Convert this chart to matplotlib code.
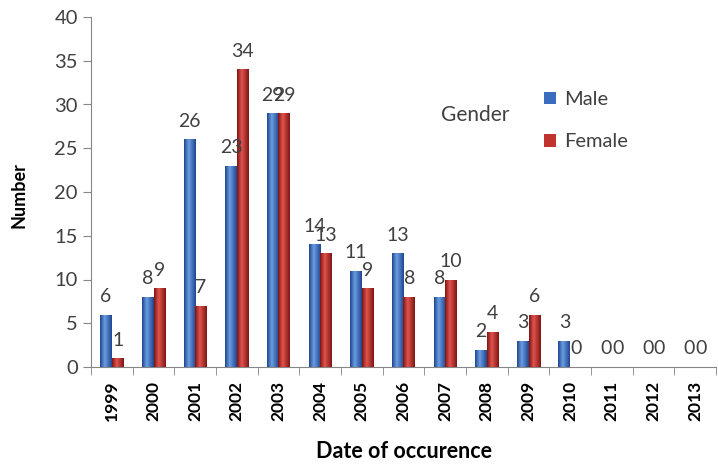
import matplotlib.pyplot as plt
import numpy as np
from matplotlib.colors import LinearSegmentedColormap

years = ['1999', '2000', '2001', '2002', '2003', '2004', '2005', '2006',
         '2007', '2008', '2009', '2010', '2011', '2012', '2013']
male = [6, 8, 26, 23, 29, 14, 11, 13, 8, 2, 3, 3, 0, 0, 0]
female = [1, 9, 7, 34, 29, 13, 9, 8, 10, 4, 6, 0, 0, 0, 0]

plt.rcParams['font.family'] = ['Lato', 'DejaVu Sans']

fig = plt.figure(figsize=(7.18, 4.65), dpi=100)
ax = fig.add_axes([91 / 718, 98 / 465, 625 / 718, 350 / 465])

x = np.arange(len(years))
w = 0.28
bm = ax.bar(x - w / 2, male, w, color='#3a6cc0', label='Male', zorder=2)
bf = ax.bar(x + w / 2, female, w, color='#c0332f', label='Female', zorder=2)

# cylinder-like shading like the old excel style
grad = np.concatenate([np.linspace(0, 1, 40), np.linspace(1, 0, 60)]).reshape(1, -1)
cm_blue = LinearSegmentedColormap.from_list('b', ['#1d4590', '#6a9ce0'])
cm_red = LinearSegmentedColormap.from_list('r', ['#7e1512', '#e0534e'])
for bars, cm in ((bm, cm_blue), (bf, cm_red)):
    for b in bars:
        if b.get_height() <= 0:
            continue
        x0, y0 = b.get_x(), b.get_y()
        im = ax.imshow(grad, cmap=cm, aspect='auto', zorder=3,
                       extent=[x0, x0 + b.get_width(), y0, y0 + b.get_height()])
        im.set_clip_path(b)

for bars in (bm, bf):
    for t in ax.bar_label(bars, padding=7, fontsize=14, color='#404040'):
        t.set_zorder(6)

ax.set_xlim(-0.5, len(years) - 0.5)
ax.set_ylim(0, 40)
ax.set_yticks(range(0, 41, 5))
ax.tick_params(axis='y', labelsize=14.5, labelcolor='#404040', color='#868686',
               length=6, direction='out')
ax.set_xticks(x)
ax.set_xticklabels(years, rotation=90, fontweight='bold', fontsize=12.5)
ax.set_xticks(np.arange(-0.5, len(years), 1), minor=True)
ax.tick_params(axis='x', which='major', length=0, pad=10)
ax.tick_params(axis='x', which='minor', length=6, color='#868686')
for s in ('top', 'right'):
    ax.spines[s].set_visible(False)
for s in ('left', 'bottom'):
    ax.spines[s].set_color('#868686')

ax.set_ylabel('Number', fontweight='bold', fontsize=13)
ax.yaxis.set_label_coords(-0.102, 0.49)
ax.set_xlabel('Date of occurence', fontweight='bold', fontsize=15.5, labelpad=14)

fig.text(475 / 718, 1 - 115 / 465, 'Gender', ha='center', va='center',
         fontsize=15, color='#404040')
fig.legend(handles=[bm, bf], loc='upper left', bbox_to_anchor=(526 / 718, 1 - 73 / 465),
           frameon=False, fontsize=14.5, handlelength=0.6, handleheight=0.6,
           handletextpad=0.4, labelspacing=1.25, labelcolor='#404040')

fig.savefig('out.png', dpi=100)
